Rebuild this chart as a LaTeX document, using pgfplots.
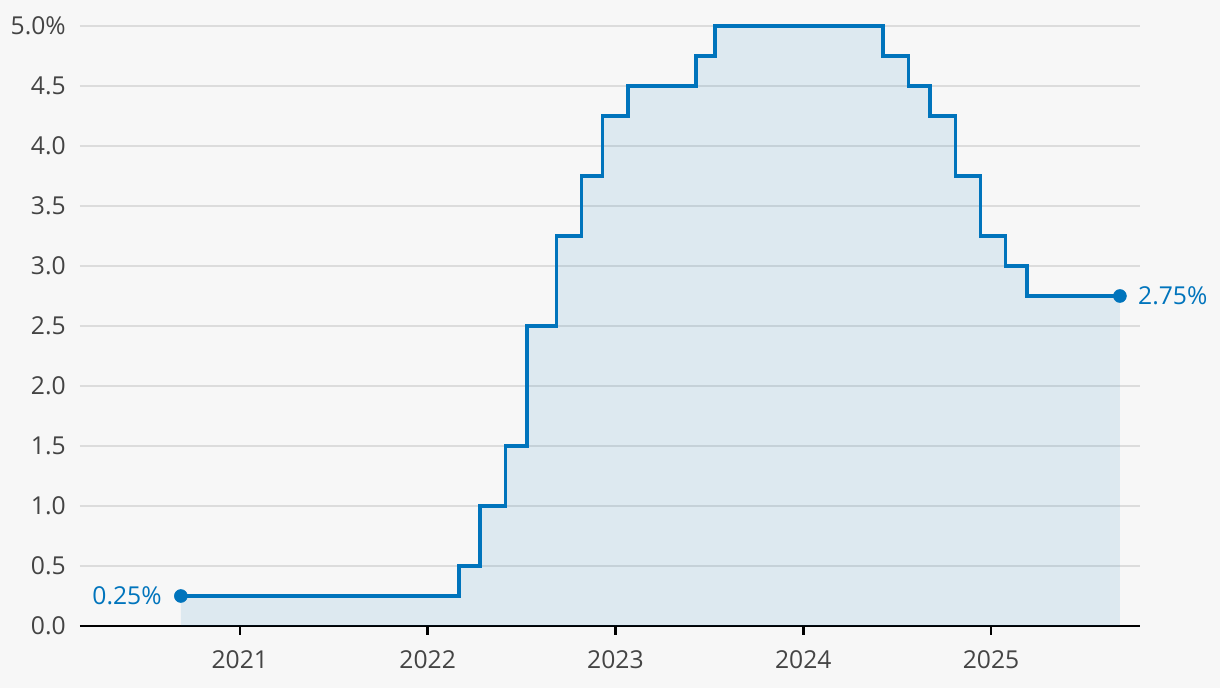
\documentclass[border=0pt]{standalone}
\usepackage{pgfplots}
\pgfplotsset{compat=1.18}
\usepackage{fontspec}
\setmainfont{Open Sans}
\definecolor{bgc}{HTML}{F7F7F7}
\definecolor{linec}{HTML}{0074BC}
\definecolor{gridc}{HTML}{DCDCDC}
\definecolor{tickc}{HTML}{444444}
\newlength{\px}
\setlength{\px}{0.75pt}
\begin{document}
\begin{tikzpicture}
\fill[bgc] (-80\px,-62\px) rectangle (1140\px,626\px);
\path[use as bounding box] (-80\px,-62\px) rectangle (1140\px,626\px);
\begin{axis}[
  at={(0,0)}, anchor=south west,
  scale only axis,
  width=1060\px, height=600\px,
  xmin=2020.149, xmax=2025.793,
  ymin=0, ymax=5,
  axis x line*=bottom, axis y line*=left,
  x axis line style={-, black, line width=2\px},
  y axis line style={draw=none},
  xtick={2021,2022,2023,2024,2025},
  xticklabels={2021,2022,2023,2024,2025},
  ytick={0,0.5,1,1.5,2,2.5,3,3.5,4,4.5,5},
  yticklabels={0.0,0.5,1.0,1.5,2.0,2.5,3.0,3.5,4.0,4.5,5.0\%},
  xtick pos=bottom,
  xtick align=outside,
  xtick style={black, line width=2.5\px},
  major tick length=9\px,
  ytick style={draw=none},
  ymajorgrids,
  grid style={gridc, line width=1.5\px},
  tick label style={font=\fontsize{18.5pt}{21pt}\selectfont, text=tickc, inner sep=0pt},
  yticklabel style={anchor=east, xshift=-14\px},
  xticklabel style={anchor=north, yshift=-15\px},
  clip=false,
]
\addplot[const plot, draw=none, fill=linec, fill opacity=0.1] coordinates {
(2020.686,0.25) (2022.167,0.5) (2022.28,1.0) (2022.415,1.5) (2022.53,2.5)
(2022.685,3.25) (2022.82,3.75) (2022.93,4.25) (2023.067,4.5) (2023.43,4.75)
(2023.53,5.0) (2024.425,4.75) (2024.56,4.5) (2024.675,4.25) (2024.81,3.75)
(2024.945,3.25) (2025.078,3.0) (2025.19,2.75) (2025.686,2.75)
} \closedcycle;
\addplot[const plot, linec, line width=3.5\px, line join=miter] coordinates {
(2020.686,0.25) (2022.167,0.5) (2022.28,1.0) (2022.415,1.5) (2022.53,2.5)
(2022.685,3.25) (2022.82,3.75) (2022.93,4.25) (2023.067,4.5) (2023.43,4.75)
(2023.53,5.0) (2024.425,4.75) (2024.56,4.5) (2024.675,4.25) (2024.81,3.75)
(2024.945,3.25) (2025.078,3.0) (2025.19,2.75) (2025.686,2.75)
};
\addplot[only marks, mark=*, mark size=6.5\px, linec, mark options={fill=linec, draw=linec}] coordinates {
(2020.686,0.25) (2025.686,2.75)
};
\node[anchor=east, inner sep=0pt, xshift=-19\px, text=linec, font=\fontsize{18.5pt}{21pt}\selectfont] at (axis cs:2020.686,0.25) {0.25\%};
\node[anchor=west, inner sep=0pt, xshift=18\px, text=linec, font=\fontsize{18.5pt}{21pt}\selectfont] at (axis cs:2025.686,2.75) {2.75\%};
\end{axis}
\end{tikzpicture}
\end{document}
